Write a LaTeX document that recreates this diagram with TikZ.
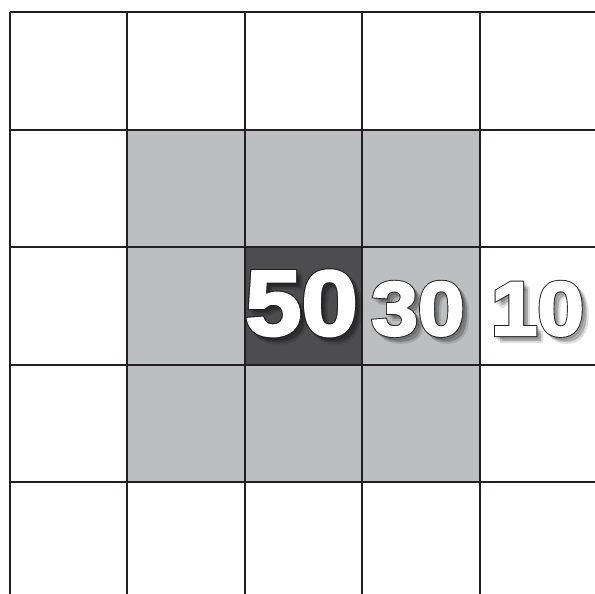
\documentclass[tikz,border=0pt]{standalone}
\usepackage{fontspec}
\newfontfamily\wfont{Liberation Sans}[BoldFeatures={FakeBold=3.2,FakeStretch=1.1}]
\newfontfamily\kfont{Liberation Sans}[BoldFeatures={FakeBold=5.6,FakeStretch=1.1}]
\definecolor{linec}{HTML}{231F20}
\definecolor{lightg}{HTML}{BCBEC0}
\definecolor{darkg}{HTML}{4D4D4F}
\tikzset{
  gridline/.style={draw=linec, line width=2pt},
  lightcell/.style={fill=lightg, draw=none},
  darkcell/.style={fill=darkg, draw=none},
  numshadow/.style={anchor=base, inner sep=0pt, text=black, opacity=0.12},
  numoutline/.style={anchor=base, inner sep=0pt, text=linec},
  numfill/.style={anchor=base, inner sep=0pt, text=white},
}
\newcommand\bignum[4]{%
  \foreach \d in {2,4,6}{
    \node[numshadow] at (#2+\d,335+\d) {\fontsize{#3}{#3}\kfont\bfseries #4};
  }
  \node[numoutline] (#1o) at (#2,335) {\fontsize{#3}{#3}\kfont\bfseries #4};
  \node[numfill] (#1) at (#2,335) {\fontsize{#3}{#3}\wfont\bfseries #4};
}
\begin{document}
\begin{tikzpicture}[x=1pt,y=-1pt]
\useasboundingbox (0,0) rectangle (595,594);
\fill[white] (0,0) rectangle (595,594);
\begin{scope}
\clip (0,0) rectangle (595,594);
\path[lightcell] (127,130) rectangle (479.5,482);
\path[darkcell] (244.5,247.3) rectangle (362,364.7);
\foreach \x in {9.5,127,244.5,362,479.5}
  \draw[gridline] (\x,12.5) -- (\x,600);
\foreach \y in {12.5,130,247.3,364.7,482}
  \draw[gridline] (9.5,\y) -- (600,\y);
\bignum{n50}{301.5}{92}{50}
\bignum{n30}{418}{76}{30}
\bignum{n10}{537.5}{76}{10}
\end{scope}
\end{tikzpicture}
\end{document}
